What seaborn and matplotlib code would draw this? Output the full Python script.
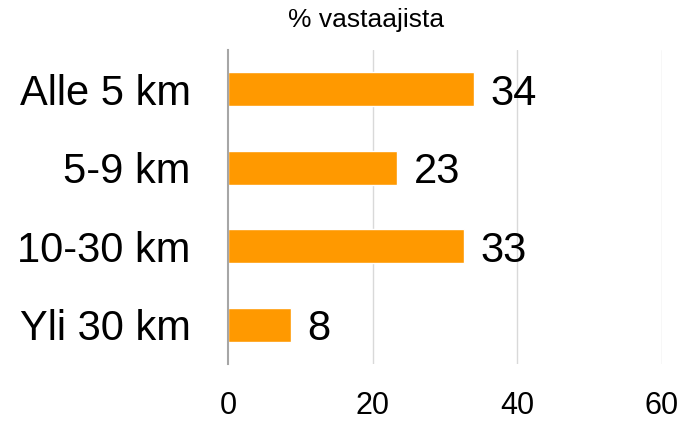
import matplotlib
matplotlib.use("Agg")
import matplotlib.pyplot as plt
import seaborn as sns
import pandas as pd

categories = ["Alle 5 km", "5-9 km", "10-30 km", "Yli 30 km"]
values = [34.0, 23.4, 32.6, 8.7]
value_labels = ["34", "23", "33", "8"]
x_ticks = [0, 20, 40, 60]
title = "% vastaajista"

sns.set_theme(style="white")
plt.rcParams["font.family"] = ["Liberation Sans", "DejaVu Sans"]

df = pd.DataFrame({"cat": categories, "val": values})

fig = plt.figure(figsize=(6.82, 4.21), dpi=100)
ax = fig.add_axes([228 / 682, 1 - 364 / 421, (662 - 228) / 682, (364 - 50) / 421])

sns.barplot(data=df, x="val", y="cat", orient="h", color="#FF9900",
            saturation=1, width=0.43, ax=ax)

ax.set_xlim(0, 60)
ax.set_ylim(3.5, -0.5)
ax.set_xticks(x_ticks)
ax.set_xticklabels([str(t) for t in x_ticks])
ax.tick_params(axis="x", length=0, pad=19.5, labelsize=22, colors="black")
ax.tick_params(axis="y", length=0, pad=27, labelsize=30, colors="black")
ax.set_xlabel("")
ax.set_ylabel("")

for t in x_ticks[1:]:
    ax.axvline(t, color="#d9d9d9", lw=1, zorder=0)

for s in ["top", "right", "bottom"]:
    ax.spines[s].set_visible(False)
ax.spines["left"].set_color("#a6a6a6")
ax.spines["left"].set_linewidth(1.5)
ax.spines["left"].set_zorder(3)

for lab, v, i in zip(value_labels, values, range(len(values))):
    ax.annotate(lab, xy=(v, i), xytext=(12, 0), textcoords="offset points",
                ha="left", va="center_baseline", fontsize=30, color="black")

fig.text(366 / 682, 1 - 27 / 421, title, ha="center", va="baseline",
         fontsize=19, color="black")

fig.savefig("out.png", dpi=100)
